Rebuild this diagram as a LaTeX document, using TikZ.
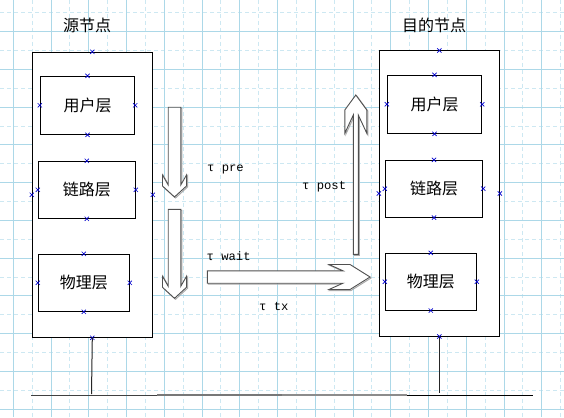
\documentclass[tikz,border=0pt]{standalone}
\usepackage{fontspec}
\newfontfamily\cjk{Noto Sans CJK SC}
\newfontfamily\lab{Liberation Mono}
\usetikzlibrary{shapes.misc}
\definecolor{gridA}{RGB}{172,216,232}
\definecolor{gridB}{RGB}{205,232,242}
\definecolor{cpblue}{RGB}{0,0,205}
\definecolor{arrline}{RGB}{80,80,80}
\definecolor{arrshadow}{RGB}{170,170,170}
\tikzset{
  gridsolid/.style={gridA, line width=1pt},
  griddash/.style={gridB, line width=1pt, dash pattern=on 4pt off 3pt},
  outerbox/.style={draw=black, line width=1pt, fill=white, inner sep=0pt, minimum width=120pt, minimum height=285pt},
  layerbox/.style={draw=black, line width=1pt, fill=white, inner sep=0pt, font=\cjk\fontsize{16}{16}\selectfont},
  titletext/.style={inner sep=0pt, font=\cjk\fontsize{16}{16}\selectfont},
  tautext/.style={inner sep=0pt, anchor=west, font=\lab\fontsize{12.2}{13}\selectfont},
  cp/.style={cross out, draw=cpblue, line width=0.7pt, minimum size=3.5pt, inner sep=0pt},
  blockarrow/.style={fill=white, draw=arrline, line width=0.9pt, line join=miter},
  blockshadow/.style={draw=arrshadow, line width=1pt, shift={(1,1)}},
  wire/.style={draw=black!85, line width=1pt}
}
\begin{document}
\begin{tikzpicture}[x=1pt, y=-1pt]
\useasboundingbox (0,0) rectangle (564,417);
\fill[white] (0,0) rectangle (564,417);
% grid
\foreach \i in {0,...,14} {
  \draw[griddash] ({32.2+37.75*\i},0) -- ++(0,417);
}
\foreach \j in {0,...,10} {
  \draw[griddash] (0,{12.8+37.75*\j}) -- ++(564,0);
}
\foreach \i in {0,...,14} {
  \draw[gridsolid] ({13.3+37.75*\i},0) -- ++(0,417);
}
\foreach \j in {0,...,10} {
  \draw[gridsolid] (0,{31.7+37.75*\j}) -- ++(564,0);
}

% titles
\node[titletext] (tsrc) at (87,25) {源节点};
\node[titletext] (tdst) at (434,25) {目的节点};

% source node
\node[outerbox] (src) at (92.3,194.8) {};
\node[layerbox, minimum width=94.4pt, minimum height=58pt] (su) at (87.5,105.3) {用户层};
\node[layerbox, minimum width=97pt, minimum height=57pt] (sl) at (86.8,189.8) {链路层};
\node[layerbox, minimum width=91pt, minimum height=57pt] (sp) at (83.8,282.8) {物理层};

% destination node
\node[outerbox] (dst) at (439.3,193.5) {};
\node[layerbox, minimum width=94.4pt, minimum height=58pt] (du) at (434.5,104.3) {用户层};
\node[layerbox, minimum width=97.4pt, minimum height=56.7pt] (dl) at (434,188.7) {链路层};
\node[layerbox, minimum width=91pt, minimum height=56.7pt] (dp) at (430.8,281.7) {物理层};

% connection points
\foreach \n in {src,su,sl,sp,dst,du,dl,dp} {
  \node[cp] at (\n.north) {};
  \node[cp] at (\n.south) {};
  \node[cp] at (\n.west) {};
  \node[cp] at (\n.east) {};
}

% block arrows
\foreach \s in {blockshadow, blockarrow} {
  % down arrow 1
  \path[\s] (168.2,107.3) -- (168.2,185) -- (162.5,175) -- (162.5,186) -- (174.5,197)
     -- (186.5,186) -- (186.5,175) -- (180.8,185) -- (180.8,107.3) -- cycle;
  % down arrow 2
  \path[\s] (168.2,209.3) -- (168.2,286.3) -- (162.5,276.3) -- (162.5,287.3) -- (174.5,298.3)
     -- (186.5,287.3) -- (186.5,276.3) -- (180.8,286.3) -- (180.8,209.3) -- cycle;
  % right arrow
  \path[\s] (207.3,270.8) -- (343,270.8) -- (329,264.5) -- (350,264.5) -- (370,277)
     -- (350,289.5) -- (329,289.5) -- (343,283.2) -- (207.3,283.2) -- cycle;
  % up arrow
  \path[\s] (353.3,254.3) -- (353.3,115) -- (344.8,133.3) -- (344.8,110) -- (355.8,95)
     -- (366.8,110) -- (366.8,133.3) -- (358.3,115) -- (358.3,254.3) -- cycle;
}

% labels
\node[tautext] (lpre) at (207,169) {τ pre};
\node[tautext] (lpost) at (302,187) {τ post};
\node[tautext] (lwait) at (206.5,255.7) {τ wait};
\node[tautext] (ltx) at (259,306) {τ tx};

% bus
\coordinate (busA) at (31,395);
\coordinate (busB) at (157,395);
\coordinate (busC) at (282,395);
\coordinate (busD) at (407,395);
\coordinate (busE) at (533,395);
\coordinate (srcdrop) at (91.5,394);
\coordinate (dstdrop) at (439.3,393);
\draw[line width=1pt, draw={rgb,255:red,64;green,64;blue,64}] (busA) -- (busB);
\draw[line width=1.4pt, draw={rgb,255:red,120;green,120;blue,120}] (busB) -- (busC);
\draw[line width=1.2pt, draw={rgb,255:red,140;green,140;blue,140}] (busC) -- (busD);
\draw[line width=1pt, draw=black] (busD) -- (busE);
\draw[wire] (src.south) -- (srcdrop);
\draw[wire] (dst.south) -- (dstdrop);
\end{tikzpicture}
\end{document}
